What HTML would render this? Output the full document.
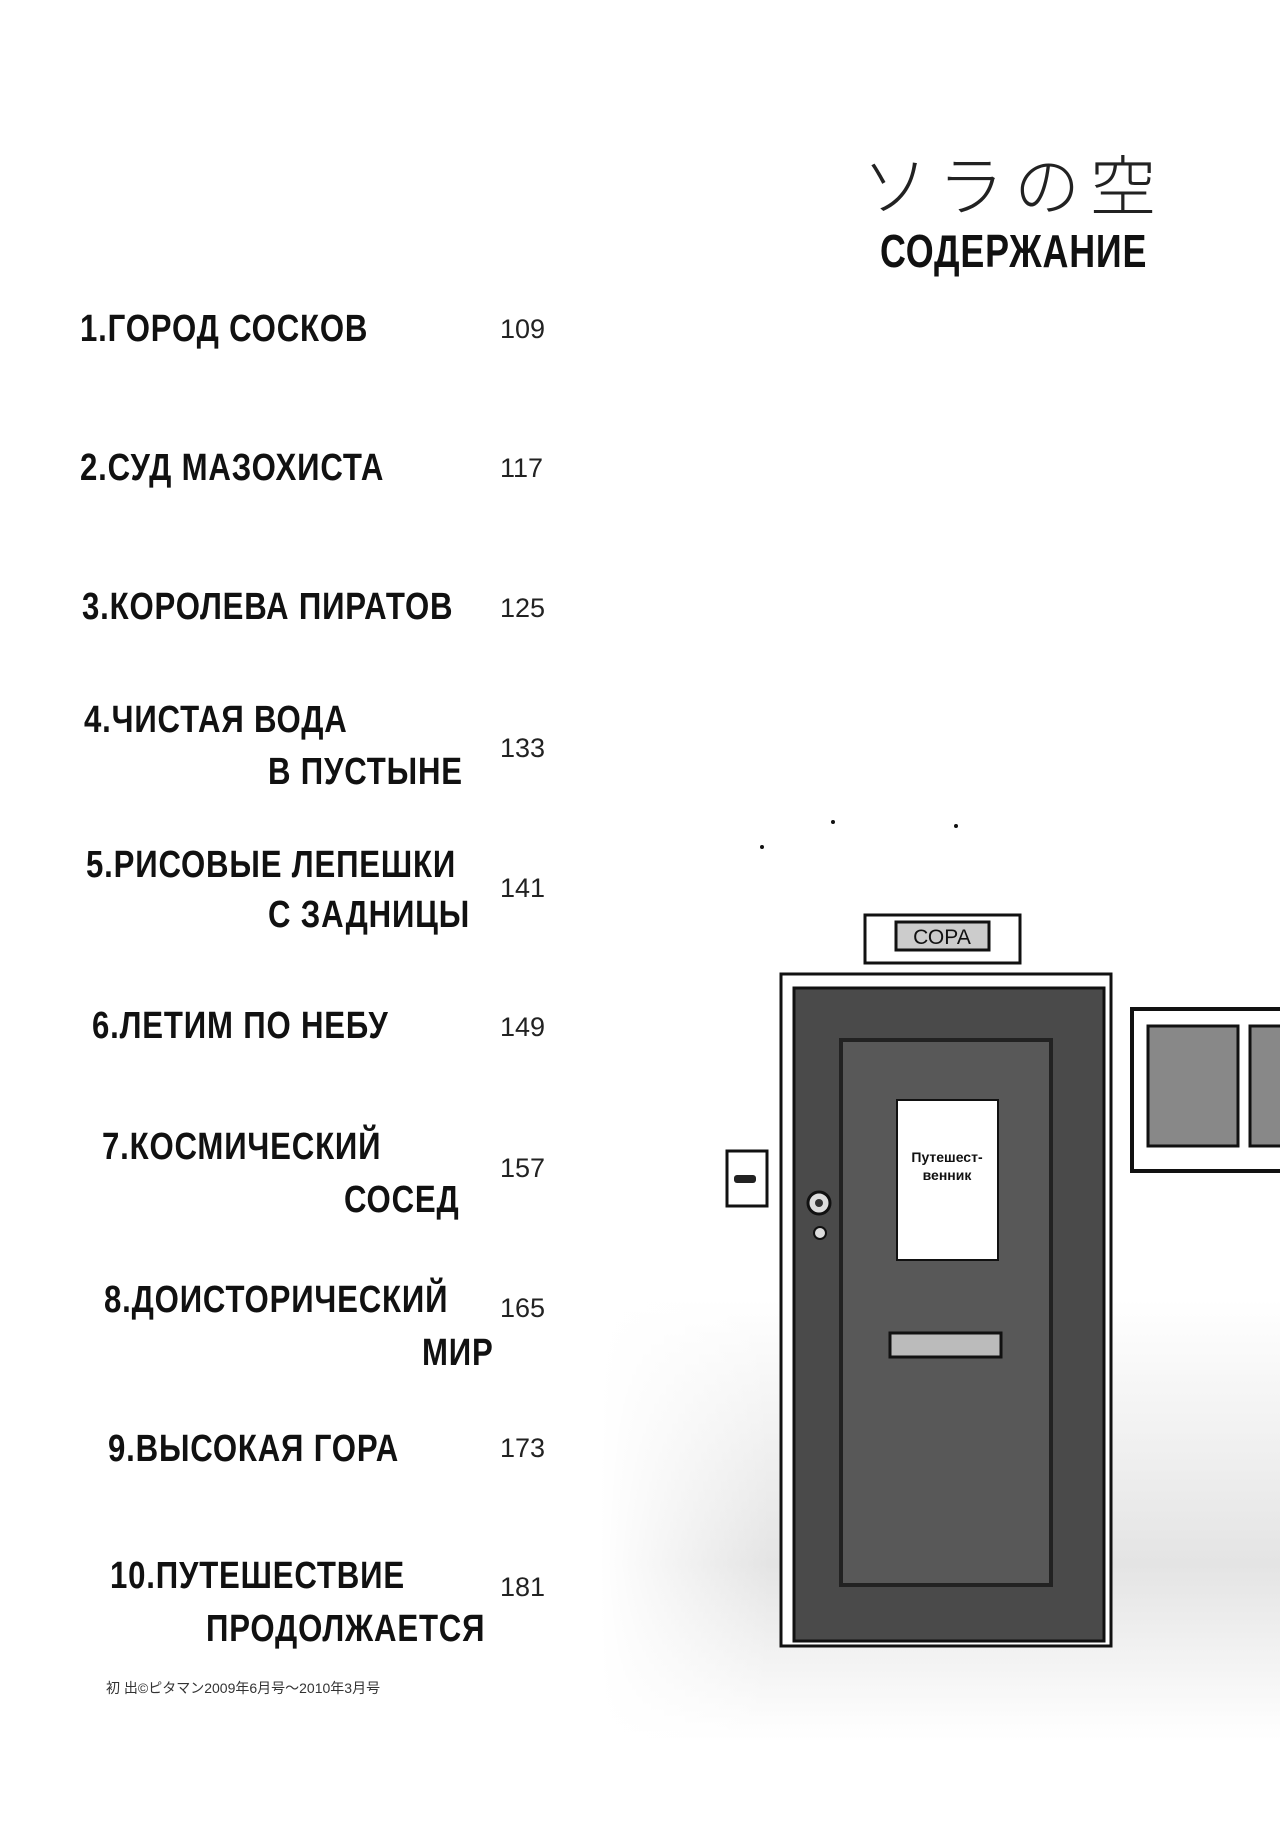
<!DOCTYPE html>
<html><head><meta charset="utf-8"><style>
body{margin:0;width:1280px;height:1844px;background:#fff;position:relative;overflow:hidden;font-family:"Liberation Sans","Noto Sans CJK JP",sans-serif}
.a{position:absolute;white-space:nowrap}
.t{font-weight:bold;font-size:38px;color:#111;transform:scaleX(0.82);transform-origin:left center;letter-spacing:1px;line-height:40px}
.n{font-size:27px;color:#222;line-height:30px}
</style></head><body>
<div class="a" style="left:862px;top:134px;font-size:66px;font-family:'Noto Sans CJK JP',sans-serif;font-weight:300;color:#222;letter-spacing:10px">ソラの空</div>
<div class="a t" style="left:880px;top:228px;font-size:46px;line-height:46px;transform:scaleX(0.78)">СОДЕРЖАНИЕ</div>

<div class="a t" style="left:80px;top:309px">1.ГОРОД СОСКОВ</div>
<div class="a t" style="left:80px;top:448px">2.СУД МАЗОХИСТА</div>
<div class="a t" style="left:82px;top:587px">3.КОРОЛЕВА ПИРАТОВ</div>
<div class="a t" style="left:84px;top:700px">4.ЧИСТАЯ ВОДА</div>
<div class="a t" style="left:268px;top:752px">В ПУСТЫНЕ</div>
<div class="a t" style="left:86px;top:845px">5.РИСОВЫЕ ЛЕПЕШКИ</div>
<div class="a t" style="left:268px;top:895px">С ЗАДНИЦЫ</div>
<div class="a t" style="left:92px;top:1006px">6.ЛЕТИМ ПО НЕБУ</div>
<div class="a t" style="left:102px;top:1127px">7.КОСМИЧЕСКИЙ</div>
<div class="a t" style="left:344px;top:1180px">СОСЕД</div>
<div class="a t" style="left:104px;top:1280px">8.ДОИСТОРИЧЕСКИЙ</div>
<div class="a t" style="left:422px;top:1333px">МИР</div>
<div class="a t" style="left:108px;top:1429px">9.ВЫСОКАЯ ГОРА</div>
<div class="a t" style="left:110px;top:1556px">10.ПУТЕШЕСТВИЕ</div>
<div class="a t" style="left:206px;top:1609px">ПРОДОЛЖАЕТСЯ</div>

<div class="a n" style="left:500px;top:314px">109</div>
<div class="a n" style="left:500px;top:453px">117</div>
<div class="a n" style="left:500px;top:593px">125</div>
<div class="a n" style="left:500px;top:733px">133</div>
<div class="a n" style="left:500px;top:873px">141</div>
<div class="a n" style="left:500px;top:1012px">149</div>
<div class="a n" style="left:500px;top:1153px">157</div>
<div class="a n" style="left:500px;top:1293px">165</div>
<div class="a n" style="left:500px;top:1433px">173</div>
<div class="a n" style="left:500px;top:1572px">181</div>

<div class="a" style="left:106px;top:1678px;font-size:14px;color:#333">初 出©ピタマン2009年6月号～2010年3月号</div>

<svg class="a" style="left:0;top:0" width="1280" height="1844">
<defs>
<linearGradient id="g" x1="0" y1="0" x2="0" y2="1"><stop offset="0" stop-color="#fff"/><stop offset="0.6" stop-color="#e4e4e4"/><stop offset="1" stop-color="#fff"/></linearGradient>
<linearGradient id="gh" x1="0" y1="0" x2="1" y2="0"><stop offset="0" stop-color="#fff" stop-opacity="1"/><stop offset="0.25" stop-color="#fff" stop-opacity="0"/></linearGradient>
</defs>
<rect x="600" y="1300" width="680" height="440" fill="url(#g)"/>
<rect x="600" y="1300" width="680" height="440" fill="url(#gh)"/>
<rect x="1132" y="1009" width="160" height="162" fill="#fff" stroke="#111" stroke-width="4"/>
<rect x="1148" y="1026" width="90" height="120" fill="#888" stroke="#111" stroke-width="3"/>
<rect x="1250" y="1026" width="40" height="120" fill="#888" stroke="#111" stroke-width="3"/>
<rect x="865" y="915" width="155" height="48" fill="#fff" stroke="#111" stroke-width="3"/>
<rect x="896" y="922" width="93" height="28" fill="#ccc" stroke="#111" stroke-width="3"/>
<text x="942" y="944" font-family="Liberation Sans" font-size="21" text-anchor="middle" fill="#111">СОРА</text>
<rect x="727" y="1151" width="40" height="55" fill="#fff" stroke="#111" stroke-width="3"/>
<rect x="734" y="1175" width="22" height="8" rx="3" fill="#222"/>
<rect x="781" y="974" width="330" height="672" fill="#fff" stroke="#111" stroke-width="3"/>
<rect x="794" y="988" width="310" height="653" fill="#4a4a4a" stroke="#111" stroke-width="3"/>
<rect x="841" y="1040" width="210" height="545" fill="#585858" stroke="#222" stroke-width="4"/>
<rect x="897" y="1100" width="101" height="160" fill="#fff" stroke="#111" stroke-width="2"/>
<text x="947" y="1162" font-family="Liberation Sans" font-weight="bold" font-size="14" text-anchor="middle" fill="#111">Путешест-</text>
<text x="947" y="1180" font-family="Liberation Sans" font-weight="bold" font-size="14" text-anchor="middle" fill="#111">венник</text>
<rect x="890" y="1333" width="111" height="24" fill="#bbb" stroke="#111" stroke-width="3"/>
<circle cx="819" cy="1203" r="11" fill="#ddd" stroke="#111" stroke-width="3"/>
<circle cx="819" cy="1203" r="4" fill="#333"/>
<circle cx="820" cy="1233" r="6" fill="#ddd" stroke="#111" stroke-width="2"/>
<circle cx="833" cy="822" r="2" fill="#111"/><circle cx="956" cy="826" r="2" fill="#111"/><circle cx="762" cy="847" r="2" fill="#111"/>
</svg>
</body></html>
